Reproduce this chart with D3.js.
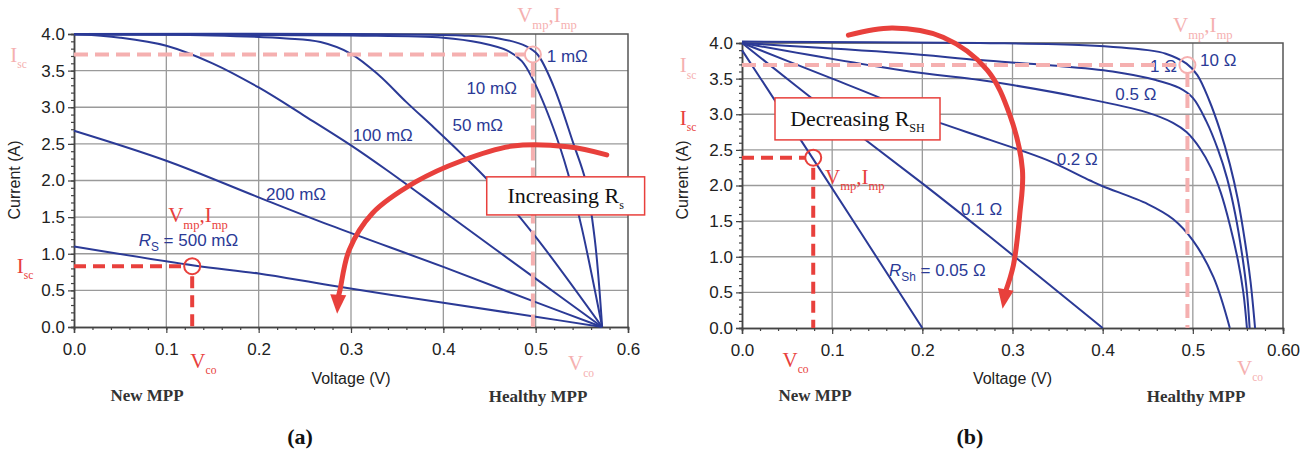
<!DOCTYPE html>
<html>
<head>
<meta charset="utf-8" />
<title>Series and shunt resistance I-V curves</title>
<script src="https://d3js.org/d3.v7.min.js"></script>
<style>
  body { margin: 0; background: #fff; }
  svg { display: block; }
  .tick text { font-family: "Liberation Sans", Arial, sans-serif; font-size: 17px; fill: #222; }
  .serif { font-family: "Liberation Serif", "Times New Roman", serif; }
  .sans { font-family: "Liberation Sans", Arial, sans-serif; }
</style>
</head>
<body>
<div id="chart"></div>
<script>
// tick values shared by both panels
const voltTicks = [0, 0.1, 0.2, 0.3, 0.4, 0.5, 0.6];
const voltMinor = d3.range(0, 0.6001, 0.02);
const currTicks = [0, 0.5, 1, 1.5, 2, 2.5, 3, 3.5, 4];
const currMinor = d3.range(0, 4.001, 0.1);

// (a) series resistance curves, [voltage, current]
const rsLabels = ["1 mΩ", "10 mΩ", "50 mΩ", "100 mΩ", "200 mΩ", "500 mΩ"];
const rs1 = [[0,4.0],[0.3,4.0],[0.42,3.98],[0.46,3.94],[0.49,3.83],[0.502,3.72],[0.519,3.3],[0.541,2.5],[0.554,2.0],[0.564,1.2],[0.572,0]];
const rs10 = [[0,3.99],[0.3,3.98],[0.4,3.95],[0.44,3.88],[0.47,3.77],[0.485,3.63],[0.497,3.38],[0.519,2.72],[0.535,2.1],[0.55,1.35],[0.572,0]];
const rs50 = [[0,4.0],[0.15,3.98],[0.23,3.94],[0.267,3.89],[0.3,3.73],[0.33,3.44],[0.36,3.07],[0.39,2.72],[0.42,2.36],[0.45,1.98],[0.5,1.23],[0.572,0]];
const rs100 = [[0,4.0],[0.05,3.95],[0.1,3.84],[0.15,3.6],[0.2,3.27],[0.25,2.88],[0.3,2.48],[0.339,2.14],[0.4,1.58],[0.5,0.66],[0.572,0]];
const rs200 = [[0,2.68],[0.1,2.27],[0.2,1.77],[0.277,1.39],[0.4,0.82],[0.5,0.34],[0.572,0]];
const rs500 = [[0,1.1],[0.13,0.84],[0.2,0.73],[0.277,0.57],[0.4,0.33],[0.5,0.14],[0.572,0]];
// label anchors [voltage, current]
const rsLabelPos = [[0.512,3.62],[0.425,3.18],[0.41,2.68],[0.302,2.54],[0.208,1.73],[0.07,1.106]];

// (b) shunt resistance curves
const rshLabels = ["10 Ω", "1 Ω", "0.5 Ω", "0.2 Ω", "0.1 Ω", "0.05 Ω"];
const rsh10 = [[0,4.02],[0.264,4.0],[0.38,3.97],[0.45,3.9],[0.47,3.85],[0.493,3.71],[0.505,3.55],[0.518,3.2],[0.53,2.78],[0.541,2.3],[0.55,1.8],[0.558,1.2],[0.564,0.65],[0.569,0]];
const rsh1 = [[0,4.0],[0.175,3.86],[0.264,3.76],[0.338,3.69],[0.411,3.6],[0.459,3.48],[0.485,3.37],[0.5,3.23],[0.515,2.9],[0.528,2.5],[0.538,2.1],[0.547,1.6],[0.555,1.0],[0.56,0.5],[0.563,0]];
const rsh05 = [[0,4.0],[0.175,3.62],[0.264,3.48],[0.3,3.41],[0.374,3.24],[0.448,3.03],[0.478,2.88],[0.493,2.75],[0.508,2.52],[0.52,2.25],[0.531,1.9],[0.541,1.45],[0.55,0.95],[0.556,0.5],[0.56,0]];
const rsh02 = [[0,4.0],[0.1,3.5],[0.155,3.22],[0.2,2.97],[0.275,2.64],[0.338,2.36],[0.386,2.07],[0.4,1.99],[0.45,1.74],[0.478,1.53],[0.5,1.23],[0.523,0.71],[0.541,0]];
const rsh01 = [[0,4.0],[0.1,3.0],[0.2,2.03],[0.275,1.28],[0.4,0]];
const rsh005 = [[0,3.9],[0.079,2.37],[0.2,0]];
const rshLabelPos = [[0.508,3.68],[0.4525,3.59],[0.414,3.2],[0.349,2.29],[0.243,1.59],[0.163,0.73]];

const W = 1315, H = 456;
const BLUE = "#2b3a96", RED = "#e8403c", PALE = "#f5b0b0";

const svg = d3.select("#chart").append("svg")
  .attr("width", W).attr("height", H);

// text with subscripts: parts = [[text, kind]], kind: "n" normal, "s" subscript, "i" italic
function rich(g, x, y, parts, size, color, cls, subScale) {
  const ss = subScale || 0.6;
  const t = g.append("text").attr("x", x).attr("y", y)
    .attr("class", cls).attr("font-size", size).attr("fill", color);
  let down = 0;
  parts.forEach(([txt, kind]) => {
    const sp = t.append("tspan").text(txt);
    const off = kind === "s" ? size * 0.3 : 0;
    if (off !== down) sp.attr("dy", off - down);
    down = off;
    if (kind === "s") sp.attr("font-size", size * ss);
    if (kind === "i") sp.attr("font-style", "italic");
  });
  return t;
}

function drawPanel(p) {
  const x = d3.scaleLinear().domain([0, 0.6]).range(p.xr);
  const y = d3.scaleLinear().domain([0, 4]).range(p.yr);
  const g = svg.append("g");

  // grid
  g.append("g").selectAll("line").data(voltTicks.slice(1, -1)).join("line")
    .attr("x1", d => x(d)).attr("x2", d => x(d))
    .attr("y1", y(0)).attr("y2", y(4))
    .attr("stroke", "#9a9a9a").attr("stroke-width", 1.3);
  g.append("g").selectAll("line").data(currTicks.slice(1, -1)).join("line")
    .attr("x1", x(0)).attr("x2", x(0.6))
    .attr("y1", d => y(d)).attr("y2", d => y(d))
    .attr("stroke", "#9a9a9a").attr("stroke-width", 1.3);
  // frame top / right
  g.append("path")
    .attr("d", `M${x(0)},${y(4)}H${x(0.6)}V${y(0)}`)
    .attr("fill", "none").attr("stroke", "#555").attr("stroke-width", 1.5);

  // axes
  g.append("g").attr("transform", `translate(0,${y(0)})`)
    .call(d3.axisBottom(x).tickValues(voltTicks).tickSize(6).tickPadding(10)
      .tickFormat(p.xfmt));
  g.append("g").attr("transform", `translate(0,${y(0)})`)
    .call(d3.axisBottom(x).tickValues(voltMinor).tickSize(3).tickFormat(""));
  g.append("g").attr("transform", `translate(${x(0)},0)`)
    .call(d3.axisLeft(y).tickValues(currTicks).tickSize(6).tickPadding(3)
      .tickFormat(d3.format(".1f")));
  g.append("g").attr("transform", `translate(${x(0)},0)`)
    .call(d3.axisLeft(y).tickValues(currMinor).tickSize(3).tickFormat(""));
  g.selectAll(".domain").attr("stroke", "#444").attr("stroke-width", 1.5);
  g.selectAll(".tick line").attr("stroke", "#444").attr("stroke-width", 1.2);

  // axis titles
  g.append("text").attr("class", "sans").attr("font-size", 16).attr("fill", "#222")
    .attr("text-anchor", "middle")
    .attr("transform", `translate(${p.yTitleX},180) rotate(-90)`)
    .text("Current (A)");
  g.append("text").attr("class", "sans").attr("font-size", 16).attr("fill", "#222")
    .attr("text-anchor", "middle").attr("x", x(0.3)).attr("y", 384)
    .text("Voltage (V)");

  // curves
  const line = d3.line().x(d => x(d[0])).y(d => y(d[1]))
    .curve(d3.curveCatmullRom.alpha(0.5));
  g.append("g").selectAll("path").data(p.curves).join("path")
    .attr("d", line).attr("fill", "none")
    .attr("stroke", BLUE).attr("stroke-width", 2);

  // curve labels
  p.labels.forEach((lab, i) => {
    const [lv, li] = p.labelPos[i];
    if (i === p.labels.length - 1) {
      rich(g, x(lv), y(li), [["R", "i"], [p.rSub, "s"], [" = " + lab, "n"]], 17, BLUE, "sans", 0.7);
    } else {
      rich(g, x(lv), y(li), [[lab, "n"]], 17, BLUE, "sans");
    }
  });

  // healthy MPP (pale)
  const h = p.healthy;
  g.append("line").attr("x1", x(0)).attr("x2", x(h[0]) - 8)
    .attr("y1", y(h[1])).attr("y2", y(h[1]))
    .attr("stroke", PALE).attr("stroke-width", 4).attr("stroke-dasharray", "14,7");
  g.append("line").attr("x1", x(h[0])).attr("x2", x(h[0]))
    .attr("y1", y(h[1]) + 8).attr("y2", y(0))
    .attr("stroke", PALE).attr("stroke-width", 4).attr("stroke-dasharray", "14,7");
  g.append("circle").attr("cx", x(h[0])).attr("cy", y(h[1])).attr("r", 8)
    .attr("fill", "none").attr("stroke", PALE).attr("stroke-width", 2);

  // new MPP (red)
  const n = p.newMpp;
  g.append("line").attr("x1", x(0)).attr("x2", x(n[0]) - 8)
    .attr("y1", y(n[1])).attr("y2", y(n[1]))
    .attr("stroke", RED).attr("stroke-width", 4).attr("stroke-dasharray", "12,7");
  g.append("line").attr("x1", x(n[0])).attr("x2", x(n[0]))
    .attr("y1", y(n[1]) + 10).attr("y2", y(0))
    .attr("stroke", RED).attr("stroke-width", 4).attr("stroke-dasharray", "12,7");
  g.append("circle").attr("cx", x(n[0])).attr("cy", y(n[1])).attr("r", 8)
    .attr("fill", "none").attr("stroke", RED).attr("stroke-width", 2);

  // serif annotations
  const vmp = [["V", "n"], ["mp", "s"], [",I", "n"], ["mp", "s"]];
  const isc = [["I", "n"], ["sc", "s"]];
  const vco = [["V", "n"], ["co", "s"]];
  rich(g, x(p.pVmp[0]), y(p.pVmp[1]), vmp, 21, PALE, "serif");
  rich(g, x(p.rVmp[0]), y(p.rVmp[1]), vmp, 21, RED, "serif");
  rich(g, x(p.pIsc[0]), y(p.pIsc[1]), isc, 21, PALE, "serif", 0.55);
  rich(g, x(p.rIsc[0]), y(p.rIsc[1]), isc, 21, RED, "serif", 0.55);
  rich(g, x(p.pVco[0]), y(p.pVco[1]), vco, 21, PALE, "serif", 0.55);
  rich(g, x(p.rVco[0]), y(p.rVco[1]), vco, 21, RED, "serif", 0.55);

  g.append("text").attr("class", "serif").attr("font-size", 17).attr("font-weight", "bold")
    .attr("fill", "#333").attr("text-anchor", "middle")
    .attr("x", p.newX).attr("y", 401).text("New MPP");
  g.append("text").attr("class", "serif").attr("font-size", 17).attr("font-weight", "bold")
    .attr("fill", "#333").attr("text-anchor", "middle")
    .attr("x", p.healthyX).attr("y", 402).text("Healthy MPP");
  g.append("text").attr("class", "serif").attr("font-size", 22).attr("font-weight", "bold")
    .attr("fill", "#111").attr("text-anchor", "middle")
    .attr("x", p.capX).attr("y", 444).text(p.caption);

  // curved arrow
  const ap = p.arrow.map(d => [x(d[0]), y(d[1])]);
  const body = ap.slice(0, -1), tip = ap[ap.length - 1], base = body[body.length - 1];
  g.append("path").attr("d", d3.line().curve(d3.curveCatmullRom)(body))
    .attr("fill", "none").attr("stroke", RED).attr("stroke-width", 5)
    .attr("stroke-linecap", "round");
  const ang = Math.atan2(tip[1] - base[1], tip[0] - base[0]);
  const px = Math.cos(ang + Math.PI / 2) * 8, py = Math.sin(ang + Math.PI / 2) * 8;
  const bx = base[0] - Math.cos(ang) * 3, by = base[1] - Math.sin(ang) * 3;
  g.append("path")
    .attr("d", `M${bx + px},${by + py}L${tip[0]},${tip[1]}L${bx - px},${by - py}Z`)
    .attr("fill", RED);

  // boxed label
  const b = p.box;
  g.append("rect").attr("x", x(b[0])).attr("y", y(b[1]))
    .attr("width", x(b[2]) - x(b[0])).attr("height", y(b[3]) - y(b[1]))
    .attr("fill", "#fff").attr("stroke", RED).attr("stroke-width", 1.5);
  rich(g, (x(b[0]) + x(b[2])) / 2, (y(b[1]) + y(b[3])) / 2 + 7, p.boxText, 22, "#111", "serif", 0.55)
    .attr("text-anchor", "middle");
}

drawPanel({
  xr: [74, 628], yr: [327, 34],
  xfmt: d3.format(".1f"),
  yTitleX: 20,
  curves: [rs1, rs10, rs50, rs100, rs200, rs500],
  labels: rsLabels, labelPos: rsLabelPos, rSub: "S",
  healthy: [0.497, 3.72], newMpp: [0.128, 0.83],
  pVmp: [0.48, 4.16], rVmp: [0.102, 1.43],
  pIsc: [-0.069, 3.62], rIsc: [-0.062, 0.74],
  pVco: [0.535, -0.59], rVco: [0.126, -0.56],
  newX: 147, healthyX: 538, capX: 300, caption: "(a)",
  arrow: [[0.577,2.35],[0.535,2.46],[0.475,2.47],[0.42,2.27],[0.37,1.98],[0.323,1.55],[0.298,1.05],[0.288,0.5],[0.286,0.4],[0.285,0.18]],
  box: [0.447, 2.05, 0.618, 1.53],
  boxText: [["Increasing R", "n"], ["s", "s"]]
});

drawPanel({
  xr: [742, 1283], yr: [328, 43],
  xfmt: d => d === 0.6 ? "0.60" : d3.format(".1f")(d),
  yTitleX: 688,
  curves: [rsh10, rsh1, rsh05, rsh02, rsh01, rsh005],
  labels: rshLabels, labelPos: rshLabelPos, rSub: "Sh",
  healthy: [0.494, 3.69], newMpp: [0.079, 2.39],
  pVmp: [0.478, 4.15], rVmp: [0.092, 2.02],
  pIsc: [-0.069, 3.59], rIsc: [-0.069, 2.85],
  pVco: [0.549, -0.66], rVco: [0.045, -0.55],
  newX: 815, healthyX: 1196, capX: 970, caption: "(b)",
  arrow: [[0.118,4.11],[0.167,4.21],[0.223,4.08],[0.272,3.62],[0.297,2.99],[0.311,2.22],[0.308,1.59],[0.301,0.88],[0.292,0.5],[0.289,0.27]],
  box: [0.0366, 3.23, 0.2196, 2.64],
  boxText: [["Decreasing R", "n"], ["SH", "s"]]
});
</script>
</body>
</html>
